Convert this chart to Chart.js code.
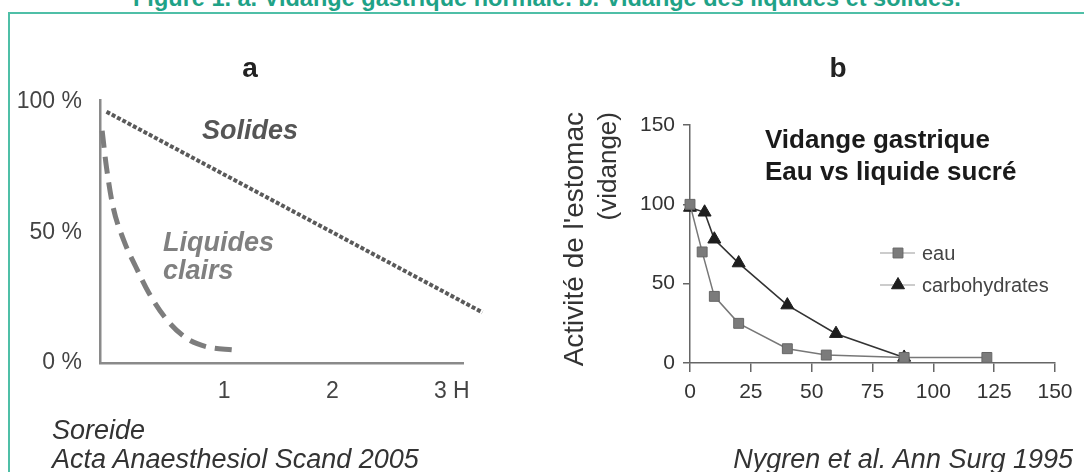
<!DOCTYPE html>
<html>
<head>
<meta charset="utf-8">
<script src="https://cdn.jsdelivr.net/npm/chart.js@4.4.0/dist/chart.umd.min.js"></script>
<style>
html, body { margin: 0; padding: 0; background: #fff; }
body { width: 1084px; height: 472px; position: relative; overflow: hidden;
  font-family: "Liberation Sans", Arial, Helvetica, sans-serif; }
.t { position: absolute; white-space: nowrap; line-height: 1; }
#frame { position: absolute; left: 8px; top: 12px; width: 2000px; height: 1000px;
  border: 2.5px solid #4fbfa7; box-sizing: border-box; }
#fig { top: -14px; left: 133px; font-size: 24px; font-weight: bold; color: #1fa287;
  transform-origin: 0 0; }
#cA { position: absolute; left: 0; top: 0; }
#cB { position: absolute; left: 540px; top: 0; }
.panel { font-size: 28px; font-weight: bold; color: #222; transform: translate(-50%, -50%); }
.note { font-size: 27px; font-weight: bold; font-style: italic; transform: translateY(-50%); }
.head { font-size: 26px; font-weight: bold; color: #1a1a1a; transform: translateY(-50%); }
.ytitle { color: #333; transform-origin: 100% 50%; transform: rotate(-90deg); }
.cite { font-size: 27px; font-style: italic; color: #333; transform: translateY(-50%); }
</style>
</head>
<body>
<div id="frame"></div>
<div class="t" id="fig">Figure 1. a. Vidange gastrique normale. b. Vidange des liquides et solides.</div>

<canvas id="cA" width="540" height="472"></canvas>
<canvas id="cB" width="544" height="472"></canvas>

<div class="t panel" style="left:250px; top:68px;">a</div>
<div class="t panel" style="left:838px; top:68px;">b</div>

<div class="t note" style="left:202px; top:130px; color:#555;">Solides</div>
<div class="t note" style="left:163px; top:242px; color:#808080;">Liquides</div>
<div class="t note" style="left:163px; top:270px; color:#808080;">clairs</div>

<div class="t head" style="left:765px; top:139px;">Vidange gastrique</div>
<div class="t head" style="left:765px; top:171px;">Eau vs liquide sucré</div>

<div class="t ytitle" style="right:510px; top:98px; font-size:28px;">Activité de l'estomac</div>
<div class="t ytitle" style="right:477px; top:99px; font-size:26px;">(vidange)</div>

<div class="t cite" style="left:52px; top:430px;">Soreide</div>
<div class="t cite" style="left:52px; top:459px;">Acta Anaesthesiol Scand 2005</div>
<div class="t cite" style="right:11px; top:459px;">Nygren et al. Ann Surg 1995</div>

<script>
// panel a : hours after intake vs % remaining in the stomach
const solidesHours = [-0.09, 3.39];
const solidesPct = [96.3, 19.4];
const liquidesHours = [-0.13, -0.09, -0.03, 0.07, 0.18, 0.30, 0.47, 0.65, 0.84, 1.09];
const liquidesPct = [89, 75, 60, 47, 37, 27, 16.5, 9.5, 6.2, 5.0];
const hourTicks = [1, 2, 3];
const hourLabels = ['1', '2', '\u20033 H'];
const pctTicks = [0, 50, 100];
const pctLabels = ['0 %', '50 %', '100 %'];

// panel b : minutes vs gastric activity
const eauMin = [0, 5, 10, 20, 40, 56, 88, 122];
const eauVal = [100, 70, 42, 25, 9, 5, 3.5, 3.5];
const carbMin = [0, 6, 10, 20, 40, 60, 88];
const carbVal = [98, 95, 78, 63, 36.5, 18.5, 3.5];
const legendNames = ['eau', 'carbohydrates'];

const FONT = "'Liberation Sans', Arial, Helvetica, sans-serif";

function pairs(xs, ys) {
  return xs.map((x, i) => ({ x: x, y: ys[i] }));
}

// fit the figure title to its width in the scan
const fig = document.getElementById('fig');
fig.style.transform = 'scaleX(' + (828 / fig.offsetWidth) + ')';

new Chart(document.getElementById('cA'), {
  type: 'scatter',
  data: {
    datasets: [{
      label: 'Solides',
      data: pairs(solidesHours, solidesPct),
      showLine: true,
      borderColor: '#5a5a5a',
      borderWidth: 4,
      borderDash: [4, 2],
      pointRadius: 0,
      clip: false
    }, {
      label: 'Liquides clairs',
      data: pairs(liquidesHours, liquidesPct),
      showLine: true,
      borderColor: '#7d7d7d',
      borderWidth: 5,
      borderDash: [17, 9],
      cubicInterpolationMode: 'monotone',
      pointRadius: 0,
      clip: false
    }]
  },
  options: {
    responsive: false,
    animation: false,
    layout: { padding: { top: 100, right: 77, left: 0, bottom: 0 } },
    plugins: { legend: { display: false }, tooltip: { enabled: false } },
    scales: {
      x: {
        type: 'linear', min: -0.15, max: 3.21,
        afterBuildTicks: (s) => { s.ticks = hourTicks.map(v => ({ value: v })); },
        afterFit: (s) => { s.height = 109; },
        ticks: {
          callback: (v) => hourLabels[hourTicks.indexOf(v)],
          font: { family: FONT, size: 23 }, color: '#444', padding: 15
        },
        grid: { display: false, drawTicks: false },
        border: { display: true, color: '#8a8a8a', width: 2.5 }
      },
      y: {
        type: 'linear', min: 0, max: 100.8,
        afterBuildTicks: (s) => { s.ticks = pctTicks.map(v => ({ value: v })); },
        afterFit: (s) => { s.width = 100; },
        ticks: {
          callback: (v) => pctLabels[pctTicks.indexOf(v)],
          font: { family: FONT, size: 23 }, color: '#444', padding: 18
        },
        grid: { display: false, drawTicks: false },
        border: { display: true, color: '#8a8a8a', width: 2.5 }
      }
    }
  }
});

const legendPlugin = {
  id: 'sideLegend',
  afterDatasetsDraw(chart) {
    const ctx = chart.ctx;
    const rows = [253, 285];
    ctx.save();
    chart.data.datasets.forEach((ds, i) => {
      const y = rows[i];
      ctx.strokeStyle = '#999';
      ctx.lineWidth = 1.2;
      ctx.beginPath();
      ctx.moveTo(340, y);
      ctx.lineTo(375, y);
      ctx.stroke();
      ctx.fillStyle = ds.pointBackgroundColor;
      ctx.strokeStyle = ds.pointBorderColor;
      ctx.lineWidth = 1;
      Chart.helpers.drawPoint(ctx, {
        pointStyle: ds.pointStyle, radius: ds.pointRadius, rotation: 0, borderWidth: 1
      }, 358, y);
      ctx.fillStyle = '#444';
      ctx.font = '20px ' + FONT;
      ctx.textBaseline = 'middle';
      ctx.textAlign = 'left';
      ctx.fillText(legendNames[i], 382, y + 1);
    });
    ctx.restore();
  }
};

new Chart(document.getElementById('cB'), {
  type: 'scatter',
  data: {
    datasets: [{
      label: legendNames[0],
      data: pairs(eauMin, eauVal),
      showLine: true,
      borderColor: '#777',
      borderWidth: 1.5,
      pointStyle: 'rect',
      pointRadius: 7,
      pointBackgroundColor: '#7b7b7b',
      pointBorderColor: '#666',
      pointBorderWidth: 1,
      clip: false
    }, {
      label: legendNames[1],
      data: pairs(carbMin, carbVal),
      showLine: true,
      borderColor: '#333',
      borderWidth: 1.6,
      pointStyle: 'triangle',
      pointRadius: 7.5,
      pointBackgroundColor: '#1e1e1e',
      pointBorderColor: '#1e1e1e',
      pointBorderWidth: 1,
      clip: false
    }]
  },
  options: {
    responsive: false,
    animation: false,
    layout: { padding: { top: 125, right: 29, left: 0, bottom: 0 } },
    plugins: { legend: { display: false }, tooltip: { enabled: false } },
    scales: {
      x: {
        type: 'linear', min: 0, max: 150,
        afterFit: (s) => { s.height = 109; },
        ticks: { stepSize: 25, font: { family: FONT, size: 21 }, color: '#333', padding: 8 },
        grid: { drawOnChartArea: false, tickLength: 9, color: '#666', lineWidth: 1.5 },
        border: { color: '#666', width: 1.5 }
      },
      y: {
        type: 'linear', min: 0, max: 150,
        afterFit: (s) => { s.width = 150; },
        ticks: { stepSize: 50, font: { family: FONT, size: 21 }, color: '#333', padding: 8 },
        grid: { drawOnChartArea: false, tickLength: 7, color: '#666', lineWidth: 1.5 },
        border: { color: '#666', width: 1.5 }
      }
    }
  },
  plugins: [legendPlugin]
});
</script>
</body>
</html>
